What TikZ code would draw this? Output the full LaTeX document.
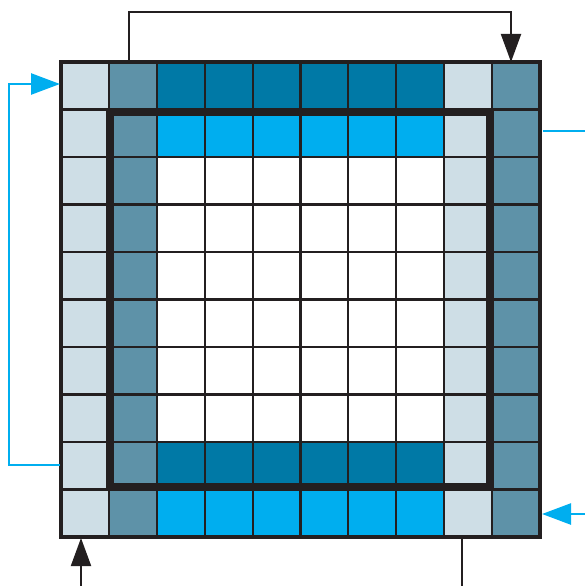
\documentclass[tikz,border=0pt]{standalone}
\usetikzlibrary{arrows.meta}
\definecolor{lt}{HTML}{CEDEE6}
\definecolor{md}{HTML}{5E92A8}
\definecolor{dk}{HTML}{0079A6}
\definecolor{br}{HTML}{00AEEF}
\definecolor{ink}{HTML}{231F20}
\def\pickcol#1#2{%
 \ifnum#2=0 \def\cc{lt}\else\ifnum#2=8 \def\cc{lt}\else\ifnum#2=1 \def\cc{md}\else\ifnum#2=9 \def\cc{md}\else
 \ifnum#1=0 \def\cc{dk}\else\ifnum#1=8 \def\cc{dk}\else\ifnum#1=1 \def\cc{br}\else\ifnum#1=9 \def\cc{br}\else\def\cc{white}\fi\fi\fi\fi\fi\fi\fi\fi}
\tikzset{
 cellbox/.style={draw=ink, line width=2.1pt, minimum width=47.9pt, minimum height=47.5pt, inner sep=0pt, outer sep=0pt},
 blkline/.style={draw=ink, line width=2pt},
 blkarrow/.style={blkline, -{Triangle[length=28pt,width=20pt]}},
 cyline/.style={draw=br, line width=2.5pt},
 cyarrow/.style={cyline, -{Triangle[length=29pt,width=21pt]}},
}
\begin{document}
\begin{tikzpicture}[x=1pt,y=-1pt]
\useasboundingbox (0,0) rectangle (585,586);
\foreach \r in {0,...,9}{
 \foreach \c in {0,...,9}{
  \pickcol{\r}{\c}
  \node[cellbox, fill=\cc] (c\r\c) at ({61+47.9*(\c+0.5)},{62+47.5*(\r+0.5)}) {};
 }
}
\draw[ink, line width=3.5pt] (c00.north west) rectangle (c99.south east);
\draw[ink, line width=7.5pt] (110,112) rectangle (490,487);
% connectors
\coordinate (A1) at (129,62);
\coordinate (A2) at (511,62);
\coordinate (Atop) at (0,12);
\draw[blkarrow] (A1) -- (A1 |- Atop) -| (A2);
\coordinate (B1) at (60,465);
\coordinate (B2) at (60,84);
\coordinate (Bleft) at (9,0);
\draw[cyarrow] (B1) -- (B1 -| Bleft) |- (B2);
\coordinate (C1) at (81,586);
\coordinate (C2) at (81,538);
\draw[blkarrow] (C1) -- (C2);
\coordinate (D1) at (462,538);
\coordinate (D2) at (462,586);
\draw[blkline] (D1) -- (D2);
\coordinate (E1) at (543,131);
\coordinate (E2) at (585,131);
\draw[cyline] (E1) -- (E2);
\coordinate (F1) at (585,514);
\coordinate (F2) at (542,514);
\draw[cyarrow] (F1) -- (F2);
\end{tikzpicture}
\end{document}
